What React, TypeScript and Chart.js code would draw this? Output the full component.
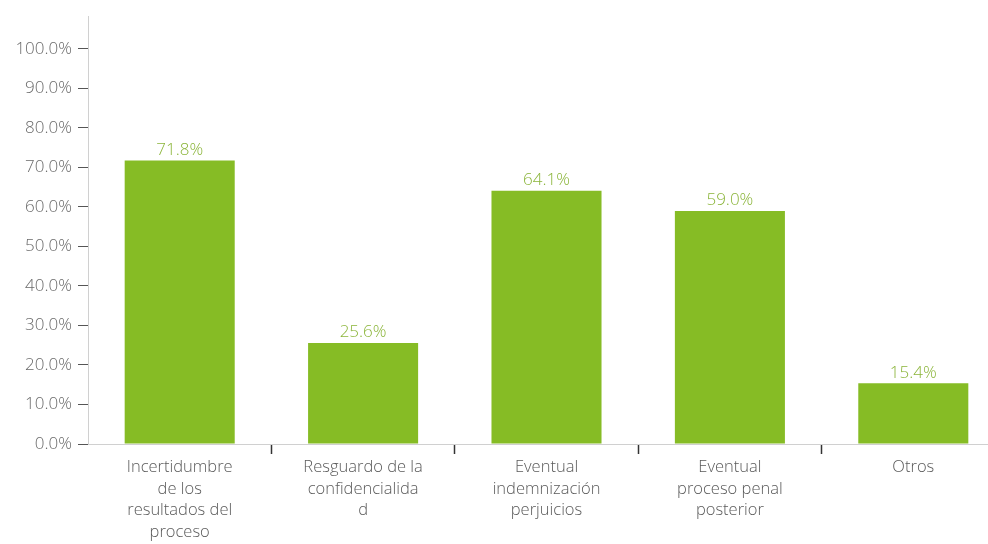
import React, { useEffect, useRef } from "react";
import { Chart, registerables } from "chart.js";
Chart.register(...registerables);

const categories: string[][] = [
  ["Incertidumbre", "de los", "resultados del", "proceso"],
  ["Resguardo de la", "confidencialida", "d"],
  ["Eventual", "indemnización", "perjuicios"],
  ["Eventual", "proceso penal", "posterior"],
  ["Otros"],
];
const values: number[] = [71.8, 25.6, 64.1, 59.0, 15.4];
const yTicks: number[] = [0, 10, 20, 30, 40, 50, 60, 70, 80, 90, 100];

const FAMILY = "'Open Sans', 'Noto Sans', sans-serif";
const BAR_COLOR = "#86bc25";
const LABEL_COLOR = "#8bb53a";

export default function App() {
  const ref = useRef<HTMLCanvasElement>(null);
  useEffect(() => {
    if (!ref.current) return;
    const labelPlugin = {
      id: "valueLabels",
      afterDatasetsDraw(chart: any) {
        const ctx = chart.ctx;
        const meta = chart.getDatasetMeta(0);
        ctx.save();
        ctx.font = `300 17px ${FAMILY}`;
        ctx.fillStyle = LABEL_COLOR;
        ctx.textAlign = "center";
        ctx.textBaseline = "bottom";
        meta.data.forEach((bar: any, i: number) => {
          ctx.fillText(values[i].toFixed(1) + "%", bar.x, bar.y - 2);
        });
        ctx.restore();
      },
    };
    const chart = new Chart(ref.current, {
      type: "bar",
      data: {
        labels: categories,
        datasets: [
          {
            data: values,
            backgroundColor: BAR_COLOR,
            barPercentage: 0.6,
            categoryPercentage: 1,
          },
        ],
      },
      options: {
        responsive: false,
        animation: false,
        layout: { padding: { top: 15, right: 5, left: 0, bottom: 0 } },
        plugins: { legend: { display: false }, tooltip: { enabled: false } },
        scales: {
          x: {
            grid: {
              offset: true,
              drawOnChartArea: false,
              drawTicks: true,
              tickLength: 10,
              tickWidth: 1.5,
              tickColor: (c: any) => (c.index === 0 ? "rgba(0,0,0,0)" : "#333"),
            },
            border: { color: "#d0d0d0", width: 1 },
            ticks: {
              color: "#5a5a5a",
              font: { family: FAMILY, size: 16.5, weight: "300", lineHeight: 1.3 },
              padding: 3,
              maxRotation: 0,
              autoSkip: false,
            },
            afterFit: (s: any) => {
              s.height = 100;
            },
          },
          y: {
            min: 0,
            max: 108.3,
            afterBuildTicks: (s: any) => {
              s.ticks = yTicks.map((v) => ({ value: v }));
            },
            grid: {
              drawOnChartArea: false,
              drawTicks: true,
              tickLength: 10,
              tickColor: "#555",
            },
            border: { color: "#d0d0d0", width: 1 },
            ticks: {
              color: "#6a6a6a",
              font: { family: FAMILY, size: 17, weight: "300" },
              padding: 6,
              autoSkip: false,
              callback: (v: any) => Number(v).toFixed(1) + "%",
            },
            afterFit: (s: any) => {
              s.width = 88;
            },
          },
        },
      },
      plugins: [labelPlugin],
    } as any);
    return () => chart.destroy();
  }, []);
  return (
    <div
      style={{
        position: "fixed",
        left: 0,
        top: 0,
        width: 988,
        height: 544,
        overflow: "hidden",
        background: "#fff",
      }}
    >
      <canvas
        ref={ref}
        width={1010}
        height={544}
        style={{ display: "block", width: 1010, height: 544 }}
      />
    </div>
  );
}
